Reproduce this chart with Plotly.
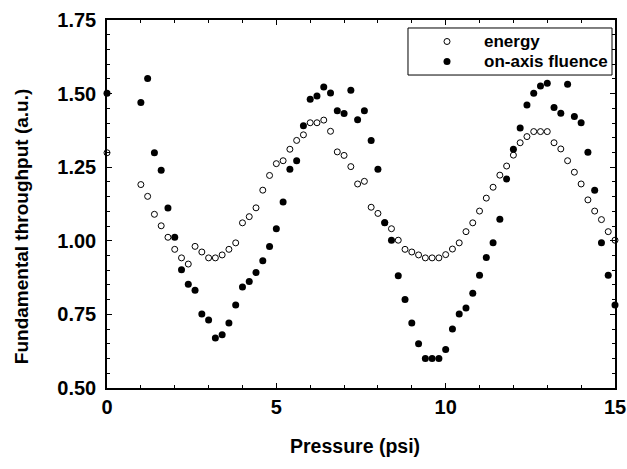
import plotly.graph_objects as go

pressure = [0.0, 1.0, 1.2, 1.4, 1.6, 1.8, 2.0, 2.2, 2.4, 2.6, 2.8, 3.0, 3.2, 3.4, 3.6, 3.8,
            4.0, 4.2, 4.4, 4.6, 4.8, 5.0, 5.2, 5.4, 5.6, 5.8, 6.0, 6.2, 6.4, 6.6, 6.8,
            7.0, 7.2, 7.4, 7.6, 7.8, 8.0, 8.2, 8.4, 8.6, 8.8, 9.0, 9.2, 9.4, 9.6, 9.8,
            10.0, 10.2, 10.4, 10.6, 10.8, 11.0, 11.2, 11.4, 11.6, 11.8, 12.0, 12.2, 12.4,
            12.6, 12.8, 13.0, 13.2, 13.4, 13.6, 13.8, 14.0, 14.2, 14.4, 14.6, 14.8, 15.0]

energy = [1.299, 1.191, 1.151, 1.090, 1.051, 1.012, 0.971, 0.942, 0.921, 0.981, 0.962, 0.942,
          0.942, 0.952, 0.971, 0.993, 1.061, 1.082, 1.112, 1.172, 1.222, 1.262, 1.272, 1.311,
          1.341, 1.360, 1.401, 1.401, 1.410, 1.372, 1.302, 1.290, 1.252, 1.193, 1.202, 1.114,
          1.093, 1.062, 1.041, 1.002, 0.971, 0.962, 0.952, 0.942, 0.942, 0.942, 0.953, 0.972,
          0.993, 1.031, 1.061, 1.101, 1.145, 1.182, 1.223, 1.254, 1.291, 1.333, 1.354, 1.371,
          1.371, 1.371, 1.333, 1.312, 1.272, 1.233, 1.193, 1.139, 1.101, 1.072, 1.031, 1.002]

fluence = [1.501, 1.470, 1.551, 1.299, 1.240, 1.111, 1.012, 0.902, 0.852, 0.832, 0.751, 0.731,
           0.670, 0.681, 0.721, 0.782, 0.843, 0.862, 0.892, 0.932, 0.981, 1.041, 1.132, 1.243,
           1.272, 1.391, 1.481, 1.492, 1.522, 1.502, 1.442, 1.432, 1.511, 1.411, 1.442, 1.341,
           1.243, 1.061, 1.002, 0.881, 0.801, 0.721, 0.650, 0.600, 0.600, 0.600, 0.631, 0.700,
           0.751, 0.772, 0.822, 0.883, 0.943, 0.993, 1.073, 1.210, 1.311, 1.383, 1.461, 1.501,
           1.526, 1.535, 1.453, 1.433, 1.532, 1.422, 1.401, 1.301, 1.172, 0.993, 0.883, 0.782]

series_names = ["energy", "on-axis fluence"]
x_ticks = [0, 5, 10, 15]
y_ticks = [0.50, 0.75, 1.00, 1.25, 1.50, 1.75]

FONT = "Liberation Sans"
OPEN = dict(symbol="circle-open", size=6, color="black", line=dict(width=1, color="black"))
FILLED = dict(symbol="circle", size=7, color="black")

fig = go.Figure()
fig.add_trace(go.Scatter(x=pressure, y=energy, mode="markers", name=series_names[0],
                         marker=OPEN, cliponaxis=False, showlegend=False))
fig.add_trace(go.Scatter(x=pressure, y=fluence, mode="markers", name=series_names[1],
                         marker=FILLED, cliponaxis=False, showlegend=False))

# compact legend (box, sample markers on an overlay axis spanning the plot area, labels)
leg_left, leg_right, leg_top, leg_bottom = 0.5925, 0.9941, 0.9783, 0.8505
leg_mark_x, leg_text_x = 0.6693, 0.7402
leg_rows = [0.9416, 0.8872]
fig.add_trace(go.Scatter(x=[leg_mark_x], y=[leg_rows[0]], xaxis="x2", yaxis="y2",
                         mode="markers", marker=OPEN, showlegend=False, hoverinfo="skip"))
fig.add_trace(go.Scatter(x=[leg_mark_x], y=[leg_rows[1]], xaxis="x2", yaxis="y2",
                         mode="markers", marker=FILLED, showlegend=False, hoverinfo="skip"))
fig.add_shape(type="rect", xref="paper", yref="paper", x0=leg_left, x1=leg_right,
              y0=leg_bottom, y1=leg_top, line=dict(color="black", width=1),
              fillcolor="rgba(0,0,0,0)")
for name, yy in zip(series_names, leg_rows):
    fig.add_annotation(xref="paper", yref="paper", x=leg_text_x, y=yy, text=name,
                       showarrow=False, xanchor="left", yanchor="middle", borderpad=0,
                       font=dict(family=FONT, size=17, color="black", weight="bold"))

# axis titles
fig.add_annotation(xref="paper", yref="paper", x=0.488, y=-0.158, text="Pressure (psi)",
                   showarrow=False, xanchor="center", yanchor="middle",
                   font=dict(family=FONT, size=19.5, color="black", weight="bold"))
fig.add_annotation(xref="paper", yref="paper", x=-0.169, y=0.4375,
                   text="Fundamental throughput (a.u.)", textangle=-90,
                   showarrow=False, xanchor="center", yanchor="middle",
                   font=dict(family=FONT, size=19, color="black", weight="bold"))

fig.update_layout(
    width=627, height=469,
    margin=dict(l=107, r=12, t=20, b=81),
    paper_bgcolor="white", plot_bgcolor="white",
    font=dict(family=FONT, color="black", size=18, weight="bold"),
    showlegend=False,
    xaxis=dict(
        range=[0, 15], tickvals=x_ticks, ticktext=[str(v) for v in x_ticks],
        showgrid=False, zeroline=False, automargin=False,
        showline=True, linecolor="black", linewidth=1.5, mirror="ticks",
        ticks="inside", ticklen=5, tickwidth=1, tickcolor="black",
        minor=dict(dtick=1, ticks="inside", ticklen=3, tickcolor="black", showgrid=False),
        tickfont=dict(family=FONT, size=20, color="black", weight="bold"),
        ticklabelstandoff=0,
    ),
    yaxis=dict(
        range=[0.5, 1.75], tickvals=y_ticks, ticktext=[f"{v:.2f}" for v in y_ticks],
        showgrid=False, zeroline=False, automargin=False,
        showline=True, linecolor="black", linewidth=1.5, mirror="ticks",
        ticks="inside", ticklen=5, tickwidth=1, tickcolor="black",
        minor=dict(dtick=0.05, ticks="inside", ticklen=3, tickcolor="black", showgrid=False),
        tickfont=dict(family=FONT, size=20, color="black", weight="bold"),
        ticklabelstandoff=5,
    ),
    xaxis2=dict(overlaying="x", range=[0, 1], visible=False, fixedrange=True),
    yaxis2=dict(overlaying="y", range=[0, 1], visible=False, fixedrange=True),
)

fig.write_html("out.html")
